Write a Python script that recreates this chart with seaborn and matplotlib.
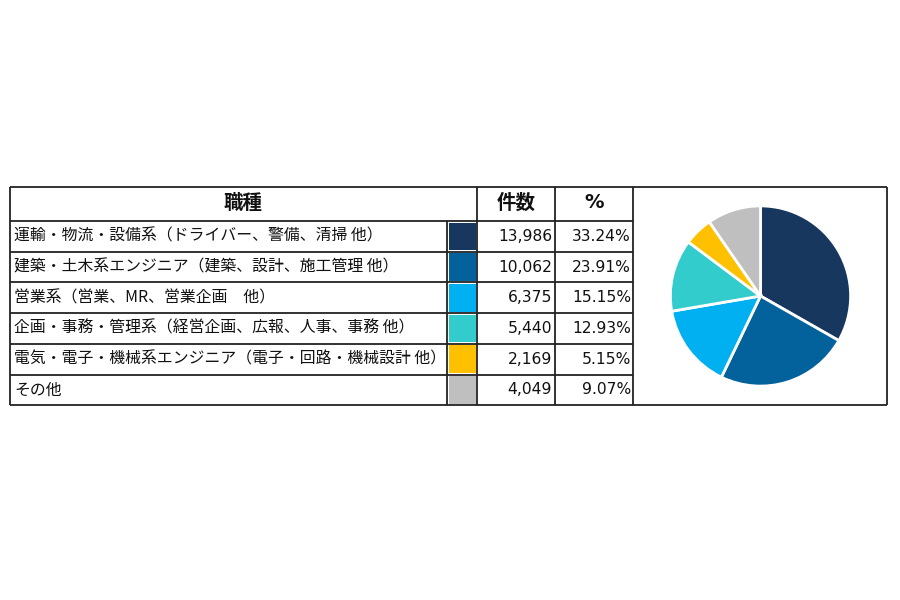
import matplotlib
matplotlib.use("Agg")
import matplotlib.pyplot as plt
from matplotlib.patches import Rectangle
import seaborn as sns

# data
categories = [
    "運輸・物流・設備系（ドライバー、警備、清掃 他）",
    "建築・土木系エンジニア（建築、設計、施工管理 他）",
    "営業系（営業、MR、営業企画　他）",
    "企画・事務・管理系（経営企画、広報、人事、事務 他）",
    "電気・電子・機械系エンジニア（電子・回路・機械設計 他）",
    "その他",
]
counts = [13986, 10062, 6375, 5440, 2169, 4049]
percents = ["33.24%", "23.91%", "15.15%", "12.93%", "5.15%", "9.07%"]
headers = ["職種", "件数", "%"]
colors = ["#17375E", "#03629C", "#00B0F0", "#33CCCC", "#FFC000", "#BFBFBF"]

sns.set_theme(style="white")
plt.rcParams["font.family"] = ["Noto Sans CJK JP", "DejaVu Sans"]

fig = plt.figure(figsize=(9, 6), dpi=100)
fig.patch.set_facecolor("white")

# table drawn in pixel coordinates
ax = fig.add_axes([0, 0, 1, 1])
ax.set_xlim(0, 900)
ax.set_ylim(600, 0)
ax.axis("off")

x_left, x_sw, x_cnt, x_pct, x_pie, x_right = 10, 447, 477, 555, 633, 887
y_top, y_head = 187, 221
row_h = 30.7
n = len(categories)
y_bottom = y_head + row_h * n
lc = "#222222"
lw = 1.3

# horizontal lines
ax.hlines([y_top, y_bottom], x_left, x_right, color=lc, lw=lw)
ax.hlines([y_head + row_h * i for i in range(n)], x_left, x_pie, color=lc, lw=lw)
# vertical lines
ax.vlines([x_left, x_cnt, x_pct, x_pie, x_right], y_top, y_bottom, color=lc, lw=lw)
ax.vlines(x_sw, y_head, y_bottom, color=lc, lw=lw)

# header
hy = (y_top + y_head) / 2 - 1
ax.text((x_left + x_cnt) / 2, hy, headers[0], ha="center",
        va="center", fontsize=14, fontweight="bold", color="#111111")
ax.text((x_cnt + x_pct) / 2, hy, headers[1], ha="center",
        va="center", fontsize=14, fontweight="bold", color="#111111")
ax.text((x_pct + x_pie) / 2, hy, headers[2], ha="center",
        va="center", fontsize=14, fontweight="bold", color="#111111",
        family="DejaVu Sans")

for i, (cat, cnt, pct, col) in enumerate(zip(categories, counts, percents, colors)):
    y0 = y_head + row_h * i
    yc = y0 + row_h / 2
    ax.text(x_left + 4, yc, cat, ha="left", va="center", fontsize=11.4, color="#111111")
    ax.add_patch(Rectangle((x_sw + 1.5, y0 + 1.5), x_cnt - x_sw - 3, row_h - 3,
                           facecolor=col, edgecolor="none"))
    ax.text(x_pct - 3, yc, f"{cnt:,}", ha="right", va="center", fontsize=11.2,
            color="#111111", family="DejaVu Sans")
    ax.text(x_pie - 2, yc, pct, ha="right", va="center", fontsize=11.2,
            color="#111111", family="DejaVu Sans")

# pie chart
cx, cy, r = 760.5, 296, 91
pax = fig.add_axes([(cx - r) / 900, (600 - cy - r) / 600, 2 * r / 900, 2 * r / 600])
pax.pie(counts, colors=colors, startangle=90, counterclock=False,
        wedgeprops=dict(edgecolor="white", linewidth=2))
pax.set_xlim(-1.01, 1.01)
pax.set_ylim(-1.01, 1.01)
pax.axis("off")

fig.savefig("out.png", dpi=100, facecolor="white")
